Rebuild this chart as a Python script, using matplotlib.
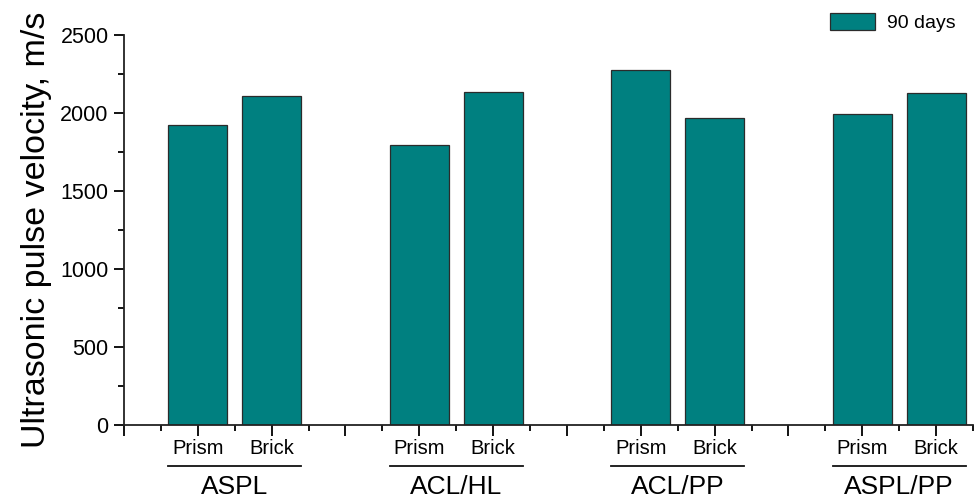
import matplotlib
matplotlib.use("Agg")
import matplotlib.pyplot as plt
from matplotlib.ticker import MultipleLocator
from matplotlib.patches import Patch

plt.rcParams['font.family'] = ['Liberation Sans', 'DejaVu Sans']

groups = ["ASPL", "ACL/HL", "ACL/PP", "ASPL/PP"]
specimens = ["Prism", "Brick"]
velocity_90d = [1920, 2110, 1795, 2136, 2278, 1969, 1995, 2128]
bar_positions = [1, 2, 4, 5, 7, 8, 10, 11]

fig = plt.figure(figsize=(9.76, 5.0), dpi=100)
ax = fig.add_axes([124 / 976, 75 / 500, (973 - 124) / 976, (425 - 35) / 500])

teal = "#008080"
ax.bar(bar_positions, velocity_90d, width=0.8, color=teal,
       edgecolor="#2b2b2b", linewidth=0.9)

ax.set_xlim(0, 11.5)
ax.set_ylim(0, 2500)

for side in ("top", "right"):
    ax.spines[side].set_visible(False)
for side in ("left", "bottom"):
    ax.spines[side].set_linewidth(1.3)
    ax.spines[side].set_color("#222222")

ax.yaxis.set_major_locator(MultipleLocator(500))
ax.yaxis.set_minor_locator(MultipleLocator(250))
ax.tick_params(axis="y", which="major", length=7, width=1.3, labelsize=15.5, pad=4)
ax.tick_params(axis="y", which="minor", length=4, width=1.3)

major_x = list(range(0, 12))
labels = []
for p in major_x:
    if p in bar_positions:
        labels.append(specimens[bar_positions.index(p) % 2])
    else:
        labels.append("")
ax.set_xticks(major_x)
ax.set_xticklabels(labels)
ax.set_xticks([p + 0.5 for p in range(0, 12)], minor=True)
ax.tick_params(axis="x", which="major", length=8, width=1.3, labelsize=14.5, pad=2)
ax.tick_params(axis="x", which="minor", length=4, width=1.3)

ax.set_ylabel("Ultrasonic pulse velocity, m/s", fontsize=24.5, labelpad=6)

# group underlines and names below the specimen labels
for i, g in enumerate(groups):
    left = bar_positions[2 * i] - 0.4
    right = bar_positions[2 * i + 1] + 0.4
    ax.plot([left, right], [-0.105, -0.105], transform=ax.get_xaxis_transform(),
            color="#111111", linewidth=1.3, clip_on=False)
    ax.text((left + right) / 2, -0.159, g, transform=ax.get_xaxis_transform(),
            ha="center", va="center", fontsize=19)

ax.legend(handles=[Patch(facecolor=teal, edgecolor="#2b2b2b", linewidth=0.9, label="90 days")],
          loc="upper right", bbox_to_anchor=(1.0, 1.1), frameon=False,
          fontsize=14, handlelength=2.3, handleheight=0.9, handletextpad=0.6)

fig.savefig("out.png", dpi=100)
